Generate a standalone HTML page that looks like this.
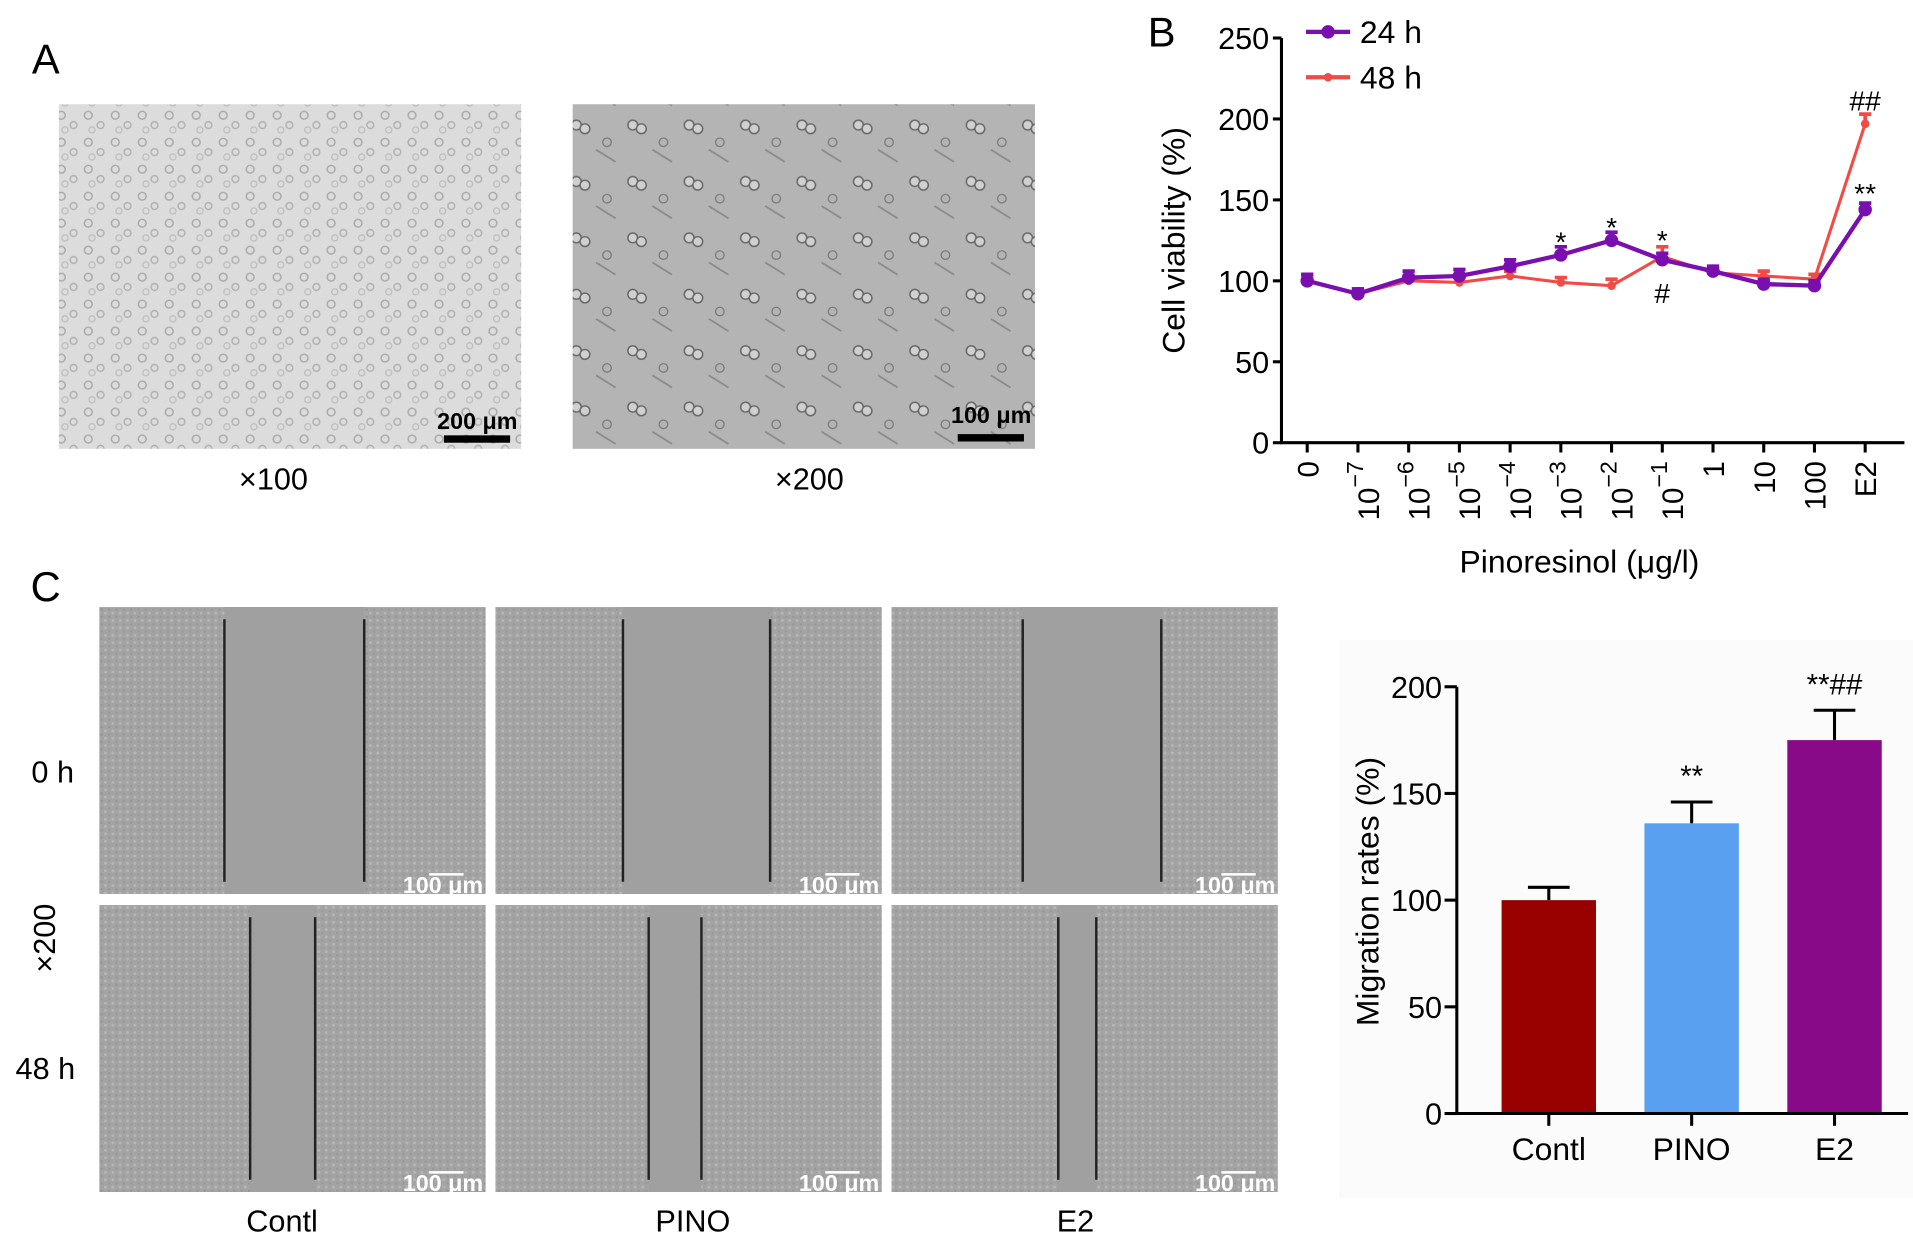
<!DOCTYPE html>
<html><head><meta charset="utf-8">
<style>
html,body{margin:0;padding:0;background:#fff;}
svg{display:block;font-family:"Liberation Sans",sans-serif;}
</style></head>
<body>
<svg id="fig" width="1913" height="1238" viewBox="0 0 1560 1009.5" preserveAspectRatio="none" xmlns="http://www.w3.org/2000/svg">
<defs>
<pattern id="cellsA" width="22" height="22" patternUnits="userSpaceOnUse">
<rect width="22" height="22" fill="#dcdcdc"/>
<circle cx="6" cy="6" r="3.2" fill="none" stroke="#a8a8a8" stroke-width="1.2"/>
<circle cx="16" cy="14" r="2.8" fill="none" stroke="#b0b0b0" stroke-width="1.2"/>
<circle cx="9" cy="18" r="2.5" fill="none" stroke="#bcbcbc" stroke-width="1"/>
</pattern>
<pattern id="cellsB" width="46" height="46" patternUnits="userSpaceOnUse">
<rect width="46" height="46" fill="#b4b4b4"/>
<circle cx="10" cy="10" r="4" fill="#d0d0d0" stroke="#666" stroke-width="1.2"/>
<circle cx="17" cy="13" r="4" fill="#d0d0d0" stroke="#666" stroke-width="1.2"/>
<path d="M26 30 L42 40" stroke="#8a8a8a" stroke-width="1.5"/>
<circle cx="35" cy="24" r="3.5" fill="none" stroke="#777" stroke-width="1"/>
</pattern>
<pattern id="scratch" width="6" height="6" patternUnits="userSpaceOnUse">
<rect width="6" height="6" fill="#a3a3a3"/>
<circle cx="2" cy="2" r="1.2" fill="#b5b5b5"/>
<circle cx="5" cy="5" r="0.9" fill="#959595"/>
</pattern>
</defs>

<!-- Panel A -->
<text x="26" y="60" font-size="34">A</text>
<rect x="48" y="85" width="377" height="281" fill="url(#cellsA)"/>
<rect x="467" y="85" width="377" height="281" fill="url(#cellsB)"/>
<text x="422" y="350" font-size="19" font-weight="bold" text-anchor="end">200 μm</text>
<rect x="362" y="355" width="54" height="6" fill="#000"/>
<text x="841" y="345" font-size="19" font-weight="bold" text-anchor="end">100 μm</text>
<rect x="781" y="354" width="54" height="6" fill="#000"/>
<text x="223" y="399" font-size="25" text-anchor="middle">×100</text>
<text x="660" y="399" font-size="25" text-anchor="middle">×200</text>

<!-- Panel B -->
<text x="936" y="38" font-size="34">B</text>
<g id="chartB"></g>

<!-- Panel C -->
<text x="25" y="490" font-size="34">C</text>
<g id="wound"></g>
<text x="43" y="638" font-size="25" text-anchor="middle">0 h</text>
<text x="37" y="880" font-size="25" text-anchor="middle">48 h</text>
<text x="0" y="0" font-size="25" text-anchor="middle" transform="translate(45,765) rotate(-90)">×200</text>
<text x="230" y="1004" font-size="25" text-anchor="middle">Contl</text>
<text x="565" y="1004" font-size="25" text-anchor="middle">PINO</text>
<text x="877" y="1004" font-size="25" text-anchor="middle">E2</text>

<rect x="1092" y="522" width="468" height="455" fill="#fbfbfb"/>
<g id="chartC"></g>
</svg>

<script>
// ---- Panel B data ----
const doseLabels = ["0","10|−7","10|−6","10|−5","10|−4","10|−3","10|−2","10|−1","1","10","100","E2"];
const viability24 = [100, 92, 102, 103, 109, 116, 125, 113, 106, 98, 97, 144];
const viability48 = [100, 92, 100, 99, 103, 99, 97, 115, 105, 103, 101, 197];
const err24 = [4, 3, 4, 4, 4, 5, 5, 4, 3, 3, 3, 4];
const err48 = [3, 3, 3, 3, 3, 3, 4, 6, 3, 3, 3, 6];
const viabilityTicks = [0, 50, 100, 150, 200, 250];
const annotationsB = [
  {i:5, v:125, txt:"*"}, {i:6, v:134, txt:"*"}, {i:7, v:126, txt:"*"},
  {i:7, v:93, txt:"#"}, {i:11, v:212, txt:"##"}, {i:11, v:155, txt:"**"}
];
// ---- Panel C data ----
const groups = ["Contl","PINO","E2"];
const migration = [100, 136, 175];
const migrationErr = [6, 10, 14];
const migrationColors = ["#990000","#5aa0f0","#880a88"];
const migrationTicks = [0, 50, 100, 150, 200];
const migrationAnno = ["", "**", "**##"];

const NS = "http://www.w3.org/2000/svg";
function mk(tag, attrs, parent){ const e=document.createElementNS(NS,tag); for(const k in attrs) e.setAttribute(k,attrs[k]); parent.appendChild(e); return e; }

// ===== Chart B =====
(function(){
  const g = document.getElementById('chartB');
  const x0=1045, y0=361, yTop=31;
  const yS = v => y0 - v/250*(y0-yTop);
  const xS = i => 1066 + i*(1521-1066)/(doseLabels.length-1);
  let ax = mk('path',{d:`M${x0} ${yTop} L${x0} ${y0} L1553 ${y0}`,fill:'none',stroke:'#000','stroke-width':2.5},g);
   
  viabilityTicks.forEach(t=>{
    const l=mk('line',{x1:x0-7,x2:x0,y1:yS(t),y2:yS(t),stroke:'#000','stroke-width':2.5},g);
     
    const tx=mk('text',{x:x0-10,y:yS(t)+9,'font-size':25,'text-anchor':'end'},g); tx.textContent=t;
     
  });
  doseLabels.forEach((lab,i)=>{
    const x=xS(i);
    const l=mk('line',{x1:x,x2:x,y1:y0,y2:y0+8,stroke:'#000','stroke-width':2.5},g);
     
    const parts=lab.split('|');
    const tx=mk('text',{x:0,y:0,'font-size':24,'text-anchor':'end',transform:`translate(${x+9},${y0+15}) rotate(-90)`},g);
     
    if(parts.length===1){ tx.textContent=parts[0]; }
    else {
      tx.setAttribute('transform',`translate(${x+17},${y0+15}) rotate(-90)`);
      const a=mk('tspan',{},tx); a.textContent=parts[0];
      const b=mk('tspan',{dy:-13,'font-size':19},tx); b.textContent=parts[1];
    }
  });
  const yt=mk('text',{x:0,y:0,'font-size':26,'text-anchor':'middle',transform:`translate(966,196) rotate(-90)`},g);
  yt.textContent='Cell viability (%)';  
  const xt=mk('text',{x:1288,y:467,'font-size':26,'text-anchor':'middle'},g);
  xt.textContent='Pinoresinol (μg/l)';  

  function series(vals,errs,color,r,name,w){
    errs.forEach((e,i)=>{
      const x=xS(i);
      const eb=mk('path',{d:`M${x} ${yS(vals[i])} V${yS(vals[i]+e)} M${x-5} ${yS(vals[i]+e)} H${x+5}`,stroke:color,'stroke-width':3,fill:'none'},g);
       
    });
    const pts=vals.map((v,i)=>xS(i)+','+yS(v)).join(' ');
    const pl=mk('polyline',{points:pts,fill:'none',stroke:color,'stroke-width':w},g);
     
    vals.forEach((v,i)=>{
      const c=mk('circle',{cx:xS(i),cy:yS(v),r:r,fill:color},g);
       
    });
  }
  series(viability48,err48,'#f24a44',3.5,'series-48h',2.5);
  series(viability24,err24,'#7a0fb0',5.5,'series-24h',3.5);
  annotationsB.forEach(a=>{
    const t=mk('text',{x:xS(a.i),y:yS(a.v)+9,'font-size':23,'text-anchor':'middle'},g); t.textContent=a.txt;
     
  });
  // legend
  [['24 h','#7a0fb0',26,5.5],['48 h','#f24a44',63,3.5]].forEach(L=>{
    const lg=mk('g',{},g);  
    mk('line',{x1:1065,x2:1101,y1:L[2],y2:L[2],stroke:L[1],'stroke-width':3.5},lg);
    mk('circle',{cx:1083,cy:L[2],r:L[3],fill:L[1]},lg);
    const t=mk('text',{x:1109,y:L[2]+9,'font-size':26},lg); t.textContent=L[0];
  });
})();

// ===== Wound images =====
(function(){
  const g=document.getElementById('wound');
  const cols=[81,404,727], rows=[495,738], W=315, H=234;
  const lines=[[[183,297],[508,628],[834,947]],[[204,257],[529,572],[863,894]]];
  rows.forEach((y,r)=>cols.forEach((x,c)=>{
    const rc=mk('rect',{x:x,y:y,width:W,height:H,fill:'url(#scratch)'},g);
     
    const [a,b]=lines[r][c];
    mk('rect',{x:a,y:y,width:b-a,height:H,fill:'#a0a0a0'},g);
    [a,b].forEach(lx=>{ const l=mk('line',{x1:lx,x2:lx,y1:y+10,y2:y+H-10,stroke:'#222','stroke-width':2},g);
        });
    mk('line',{x1:x+W-46,x2:x+W-18,y1:y+H-16,y2:y+H-16,stroke:'#fff','stroke-width':2},g);
    const t=mk('text',{x:x+W-2,y:y+H-1,'font-size':19,'font-weight':'bold',fill:'#fff','text-anchor':'end'},g);
    t.textContent='100 μm';  
  }));
})();

// ===== Chart C =====
(function(){
  const g=document.getElementById('chartC');
  const x0=1188, y0=908, yTop=560;
  const yS=v=>y0-v/200*(y0-yTop);
  const xS=i=>1263+i*116.5;
  const bw=77;
  migration.forEach((v,i)=>{
    const x=xS(i);
    const eb=mk('path',{d:`M${x} ${yS(v)} V${yS(v+migrationErr[i])} M${x-17} ${yS(v+migrationErr[i])} H${x+17}`,stroke:'#000','stroke-width':2.5,fill:'none'},g);
     
    const b=mk('rect',{x:x-bw/2,y:yS(v),width:bw,height:y0-yS(v),fill:migrationColors[i]},g);
     
    if(migrationAnno[i]){ const t=mk('text',{x:x,y:yS(v+migrationErr[i])-13,'font-size':24,'text-anchor':'middle'},g); t.textContent=migrationAnno[i];
        }
    const tk=mk('line',{x1:x,x2:x,y1:y0,y2:y0+10,stroke:'#000','stroke-width':2.5},g);
     
    const tl=mk('text',{x:x,y:y0+38,'font-size':26,'text-anchor':'middle'},g); tl.textContent=groups[i];
     
  });
  const ax=mk('path',{d:`M${x0} ${yTop} L${x0} ${y0} L1556 ${y0}`,fill:'none',stroke:'#000','stroke-width':2.5},g);
   
  migrationTicks.forEach(t=>{
    const l=mk('line',{x1:x0-10,x2:x0,y1:yS(t),y2:yS(t),stroke:'#000','stroke-width':2.5},g);
     
    const tx=mk('text',{x:x0-12,y:yS(t)+9,'font-size':25,'text-anchor':'end'},g); tx.textContent=t;
     
  });
  const yt=mk('text',{x:0,y:0,'font-size':26,'text-anchor':'middle',transform:'translate(1124,727) rotate(-90)'},g);
  yt.textContent='Migration rates (%)';  
})();
</script>
</body></html>
